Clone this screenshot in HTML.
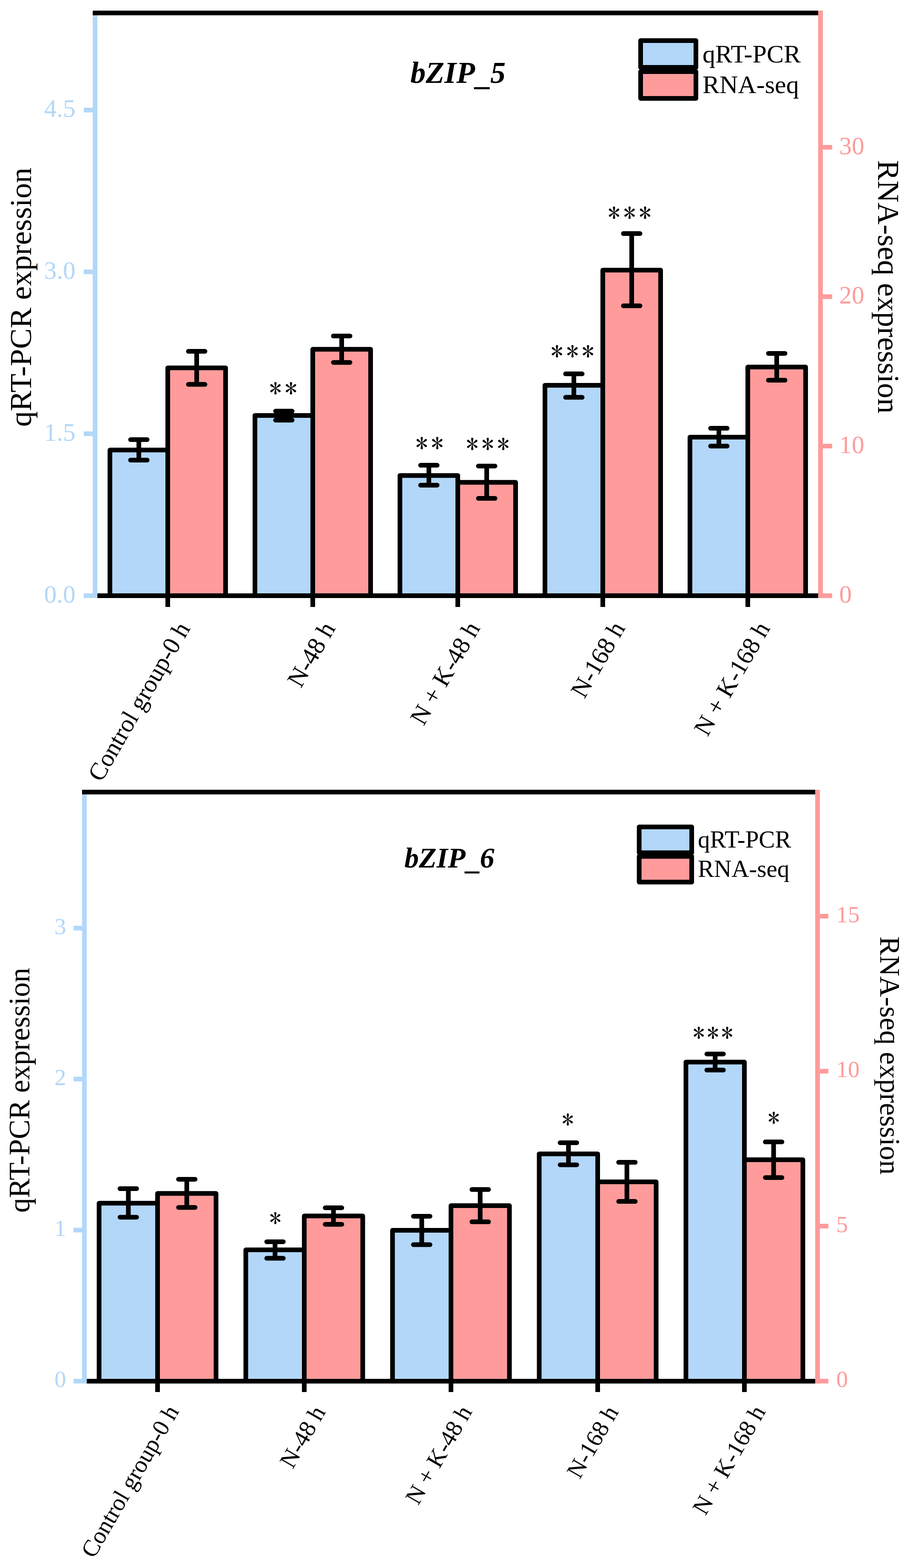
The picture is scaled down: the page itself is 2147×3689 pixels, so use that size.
<!DOCTYPE html><html><head><meta charset="utf-8"><title>bZIP expression</title>
<style>html,body{margin:0;padding:0;background:#fff;}svg{display:block;}</style></head><body>
<svg width="2147" height="3689" viewBox="0 0 2147 3689">
<rect width="2147" height="3689" fill="#fff"/>
<path d="M258.5,1407.0 V1058.8 H394.5 V1407.0" fill="#B3D7F9" stroke="#000" stroke-width="11" stroke-linejoin="round"/>
<path d="M394.5,1407.0 V865.4 H530.5 V1407.0" fill="#FF9B9B" stroke="#000" stroke-width="11" stroke-linejoin="round"/>
<path d="M599.5,1407.0 V977.5 H735.5 V1407.0" fill="#B3D7F9" stroke="#000" stroke-width="11" stroke-linejoin="round"/>
<path d="M735.5,1407.0 V821.7 H871.5 V1407.0" fill="#FF9B9B" stroke="#000" stroke-width="11" stroke-linejoin="round"/>
<path d="M940.5,1407.0 V1118.7 H1076.5 V1407.0" fill="#B3D7F9" stroke="#000" stroke-width="11" stroke-linejoin="round"/>
<path d="M1076.5,1407.0 V1134.7 H1212.5 V1407.0" fill="#FF9B9B" stroke="#000" stroke-width="11" stroke-linejoin="round"/>
<path d="M1281.5,1407.0 V906.4 H1417.5 V1407.0" fill="#B3D7F9" stroke="#000" stroke-width="11" stroke-linejoin="round"/>
<path d="M1417.5,1407.0 V635.5 H1553.5 V1407.0" fill="#FF9B9B" stroke="#000" stroke-width="11" stroke-linejoin="round"/>
<path d="M1622.5,1407.0 V1028.5 H1758.5 V1407.0" fill="#B3D7F9" stroke="#000" stroke-width="11" stroke-linejoin="round"/>
<path d="M1758.5,1407.0 V863.6 H1894.5 V1407.0" fill="#FF9B9B" stroke="#000" stroke-width="11" stroke-linejoin="round"/>
<path d="M326.5,1034.3 V1082.5 M307.0,1034.3 H346.0 M307.0,1082.5 H346.0" stroke="#000" stroke-width="11" stroke-linecap="round" fill="none"/>
<path d="M462.5,826.6 V904.3 M443.0,826.6 H482.0 M443.0,904.3 H482.0" stroke="#000" stroke-width="11" stroke-linecap="round" fill="none"/>
<path d="M667.5,967.3 V988.4 M648.0,967.3 H687.0 M648.0,988.4 H687.0" stroke="#000" stroke-width="11" stroke-linecap="round" fill="none"/>
<path d="M803.5,790.5 V852.7 M784.0,790.5 H823.0 M784.0,852.7 H823.0" stroke="#000" stroke-width="11" stroke-linecap="round" fill="none"/>
<path d="M1008.5,1094.6 V1141.4 M989.0,1094.6 H1028.0 M989.0,1141.4 H1028.0" stroke="#000" stroke-width="11" stroke-linecap="round" fill="none"/>
<path d="M1144.5,1096.4 V1172.5 M1125.0,1096.4 H1164.0 M1125.0,1172.5 H1164.0" stroke="#000" stroke-width="11" stroke-linecap="round" fill="none"/>
<path d="M1349.5,879.6 V934.8 M1330.0,879.6 H1369.0 M1330.0,934.8 H1369.0" stroke="#000" stroke-width="11" stroke-linecap="round" fill="none"/>
<path d="M1485.5,549.5 V719.5 M1466.0,549.5 H1505.0 M1466.0,719.5 H1505.0" stroke="#000" stroke-width="11" stroke-linecap="round" fill="none"/>
<path d="M1690.5,1007.6 V1049.4 M1671.0,1007.6 H1710.0 M1671.0,1049.4 H1710.0" stroke="#000" stroke-width="11" stroke-linecap="round" fill="none"/>
<path d="M1826.5,831.4 V894.5 M1807.0,831.4 H1846.0 M1807.0,894.5 H1846.0" stroke="#000" stroke-width="11" stroke-linecap="round" fill="none"/>
<rect x="218.0" y="25.0" width="1706.0" height="11.0" fill="#000"/>
<rect x="218.0" y="36.0" width="11.0" height="1371.0" fill="#B3D7F9"/>
<rect x="1924.0" y="25.0" width="11.0" height="1382.0" fill="#FF9B9B"/>
<rect x="229.0" y="1396.0" width="1695.0" height="11.0" fill="#000"/>
<rect x="197.0" y="253.5" width="21.0" height="11.0" fill="#B3D7F9"/>
<rect x="197.0" y="634.1" width="21.0" height="11.0" fill="#B3D7F9"/>
<rect x="197.0" y="1015.0" width="21.0" height="11.0" fill="#B3D7F9"/>
<rect x="197.0" y="1396.0" width="21.0" height="11.0" fill="#B3D7F9"/>
<rect x="1935.0" y="341.0" width="22.0" height="11.0" fill="#FF9B9B"/>
<rect x="1935.0" y="692.5" width="22.0" height="11.0" fill="#FF9B9B"/>
<rect x="1935.0" y="1044.0" width="22.0" height="11.0" fill="#FF9B9B"/>
<rect x="1935.0" y="1396.0" width="22.0" height="11.0" fill="#FF9B9B"/>
<rect x="389.0" y="1407.0" width="11.0" height="21.0" fill="#000"/>
<rect x="730.0" y="1407.0" width="11.0" height="21.0" fill="#000"/>
<rect x="1071.0" y="1407.0" width="11.0" height="21.0" fill="#000"/>
<rect x="1412.0" y="1407.0" width="11.0" height="21.0" fill="#000"/>
<rect x="1753.0" y="1407.0" width="11.0" height="21.0" fill="#000"/>
<text x="177.5" y="275.0" font-size="59" fill="#B3D7F9" text-anchor="end" font-family="'Liberation Serif', serif">4.5</text>
<text x="177.5" y="655.6" font-size="59" fill="#B3D7F9" text-anchor="end" font-family="'Liberation Serif', serif">3.0</text>
<text x="177.5" y="1036.5" font-size="59" fill="#B3D7F9" text-anchor="end" font-family="'Liberation Serif', serif">1.5</text>
<text x="177.5" y="1417.5" font-size="59" fill="#B3D7F9" text-anchor="end" font-family="'Liberation Serif', serif">0.0</text>
<text x="1973.5" y="362.5" font-size="59" fill="#FF9B9B" font-family="'Liberation Serif', serif">30</text>
<text x="1973.5" y="714.0" font-size="59" fill="#FF9B9B" font-family="'Liberation Serif', serif">20</text>
<text x="1973.5" y="1065.5" font-size="59" fill="#FF9B9B" font-family="'Liberation Serif', serif">10</text>
<text x="1973.5" y="1417.5" font-size="59" fill="#FF9B9B" font-family="'Liberation Serif', serif">0</text>
<text transform="translate(72.8,1004.0) rotate(-90)" font-size="72.8" font-family="'Liberation Serif', serif">qRT-PCR expression</text>
<text transform="translate(2065.0,376.8) rotate(90)" font-size="71.8" font-family="'Liberation Serif', serif">RNA-seq expression</text>
<text x="965.0" y="195.0" font-size="72" font-weight="bold" font-style="italic" font-family="'Liberation Serif', serif">bZIP<tspan dy="5" dx="3">_</tspan><tspan dy="-5" dx="-3">5</tspan></text>
<rect x="1506.5" y="168.5" width="130.0" height="62.900000000000006" fill="#FF9B9B" stroke="#000" stroke-width="11" stroke-linejoin="round"/>
<rect x="1506.5" y="95.5" width="130.0" height="63.0" fill="#B3D7F9" stroke="#000" stroke-width="11" stroke-linejoin="round"/>
<text x="1652" y="147" font-size="60" font-family="'Liberation Serif', serif">qRT-PCR</text>
<text x="1652" y="219" font-size="60" font-family="'Liberation Serif', serif">RNA-seq</text>
<text transform="translate(448.5,1478.2) rotate(-60)" text-anchor="end" font-size="58.17" font-family="'Liberation Serif', serif">Control group-0 h</text>
<text transform="translate(789.9,1478.0) rotate(-60)" text-anchor="end" font-size="58.76" font-family="'Liberation Serif', serif">N-48 h</text>
<text transform="translate(1130.4,1477.4) rotate(-60)" text-anchor="end" font-size="58.4" font-family="'Liberation Serif', serif">N + K-48 h</text>
<text transform="translate(1471.4,1477.4) rotate(-60)" text-anchor="end" font-size="58.79" font-family="'Liberation Serif', serif">N-168 h</text>
<text transform="translate(1812.1,1477.8) rotate(-60)" text-anchor="end" font-size="58.29" font-family="'Liberation Serif', serif">N + K-168 h</text>
<text x="633.3" y="935.5" font-size="58" letter-spacing="7.5" font-family="IPAGothic, sans-serif">**</text>
<text x="977.3" y="1065.3" font-size="58" letter-spacing="7.5" font-family="IPAGothic, sans-serif">**</text>
<text x="1096.1" y="1067.1" font-size="58" letter-spacing="7.5" font-family="IPAGothic, sans-serif">***</text>
<text x="1295.2" y="849.2" font-size="58" letter-spacing="7.5" font-family="IPAGothic, sans-serif">***</text>
<text x="1429.4" y="523.1" font-size="58" letter-spacing="7.5" font-family="IPAGothic, sans-serif">***</text>
<path d="M233.0,3255.0 V2830.8 H370.5 V3255.0" fill="#B3D7F9" stroke="#000" stroke-width="11" stroke-linejoin="round"/>
<path d="M370.5,3255.0 V2807.8 H508.0 V3255.0" fill="#FF9B9B" stroke="#000" stroke-width="11" stroke-linejoin="round"/>
<path d="M578.0,3255.0 V2940.6 H715.5 V3255.0" fill="#B3D7F9" stroke="#000" stroke-width="11" stroke-linejoin="round"/>
<path d="M715.5,3255.0 V2860.8 H853.0 V3255.0" fill="#FF9B9B" stroke="#000" stroke-width="11" stroke-linejoin="round"/>
<path d="M923.0,3255.0 V2894.4 H1060.5 V3255.0" fill="#B3D7F9" stroke="#000" stroke-width="11" stroke-linejoin="round"/>
<path d="M1060.5,3255.0 V2836.6 H1198.0 V3255.0" fill="#FF9B9B" stroke="#000" stroke-width="11" stroke-linejoin="round"/>
<path d="M1268.0,3255.0 V2714.7 H1405.5 V3255.0" fill="#B3D7F9" stroke="#000" stroke-width="11" stroke-linejoin="round"/>
<path d="M1405.5,3255.0 V2780.6 H1543.0 V3255.0" fill="#FF9B9B" stroke="#000" stroke-width="11" stroke-linejoin="round"/>
<path d="M1613.0,3255.0 V2498.7 H1750.5 V3255.0" fill="#B3D7F9" stroke="#000" stroke-width="11" stroke-linejoin="round"/>
<path d="M1750.5,3255.0 V2728.5 H1888.0 V3255.0" fill="#FF9B9B" stroke="#000" stroke-width="11" stroke-linejoin="round"/>
<path d="M301.8,2796.5 V2863.7 M282.2,2796.5 H321.2 M282.2,2863.7 H321.2" stroke="#000" stroke-width="11" stroke-linecap="round" fill="none"/>
<path d="M439.2,2774.4 V2840.7 M419.8,2774.4 H458.8 M419.8,2840.7 H458.8" stroke="#000" stroke-width="11" stroke-linecap="round" fill="none"/>
<path d="M646.8,2921.4 V2960.3 M627.2,2921.4 H666.2 M627.2,2960.3 H666.2" stroke="#000" stroke-width="11" stroke-linecap="round" fill="none"/>
<path d="M784.2,2841.6 V2880.4 M764.8,2841.6 H803.8 M764.8,2880.4 H803.8" stroke="#000" stroke-width="11" stroke-linecap="round" fill="none"/>
<path d="M991.8,2861.4 V2928.3 M972.2,2861.4 H1011.2 M972.2,2928.3 H1011.2" stroke="#000" stroke-width="11" stroke-linecap="round" fill="none"/>
<path d="M1129.2,2798.5 V2874.5 M1109.8,2798.5 H1148.8 M1109.8,2874.5 H1148.8" stroke="#000" stroke-width="11" stroke-linecap="round" fill="none"/>
<path d="M1336.8,2688.5 V2740.4 M1317.2,2688.5 H1356.2 M1317.2,2740.4 H1356.2" stroke="#000" stroke-width="11" stroke-linecap="round" fill="none"/>
<path d="M1474.2,2734.5 V2826.6 M1454.8,2734.5 H1493.8 M1454.8,2826.6 H1493.8" stroke="#000" stroke-width="11" stroke-linecap="round" fill="none"/>
<path d="M1681.8,2479.7 V2517.5 M1662.2,2479.7 H1701.2 M1662.2,2517.5 H1701.2" stroke="#000" stroke-width="11" stroke-linecap="round" fill="none"/>
<path d="M1819.2,2686.5 V2770.4 M1799.8,2686.5 H1838.8 M1799.8,2770.4 H1838.8" stroke="#000" stroke-width="11" stroke-linecap="round" fill="none"/>
<rect x="193.0" y="1858.0" width="1724.0" height="11.0" fill="#000"/>
<rect x="193.0" y="1869.0" width="11.0" height="1386.0" fill="#B3D7F9"/>
<rect x="1917.0" y="1858.0" width="11.0" height="1397.0" fill="#FF9B9B"/>
<rect x="204.0" y="3244.0" width="1713.0" height="11.0" fill="#000"/>
<rect x="173.0" y="2178.0" width="20.0" height="11.0" fill="#B3D7F9"/>
<rect x="173.0" y="2533.2" width="20.0" height="11.0" fill="#B3D7F9"/>
<rect x="173.0" y="2888.5" width="20.0" height="11.0" fill="#B3D7F9"/>
<rect x="173.0" y="3243.8" width="20.0" height="11.0" fill="#B3D7F9"/>
<rect x="1928.0" y="2150.0" width="20.0" height="11.0" fill="#FF9B9B"/>
<rect x="1928.0" y="2514.6" width="20.0" height="11.0" fill="#FF9B9B"/>
<rect x="1928.0" y="2879.2" width="20.0" height="11.0" fill="#FF9B9B"/>
<rect x="1928.0" y="3243.8" width="20.0" height="11.0" fill="#FF9B9B"/>
<rect x="365.0" y="3255.0" width="11.0" height="20.0" fill="#000"/>
<rect x="710.0" y="3255.0" width="11.0" height="20.0" fill="#000"/>
<rect x="1055.0" y="3255.0" width="11.0" height="20.0" fill="#000"/>
<rect x="1400.0" y="3255.0" width="11.0" height="20.0" fill="#000"/>
<rect x="1745.0" y="3255.0" width="11.0" height="20.0" fill="#000"/>
<text x="155.5" y="2197.5" font-size="55" fill="#B3D7F9" text-anchor="end" font-family="'Liberation Serif', serif">3</text>
<text x="155.5" y="2552.7" font-size="55" fill="#B3D7F9" text-anchor="end" font-family="'Liberation Serif', serif">2</text>
<text x="155.5" y="2908.0" font-size="55" fill="#B3D7F9" text-anchor="end" font-family="'Liberation Serif', serif">1</text>
<text x="155.5" y="3263.3" font-size="55" fill="#B3D7F9" text-anchor="end" font-family="'Liberation Serif', serif">0</text>
<text x="1966.5" y="2169.5" font-size="55" fill="#FF9B9B" font-family="'Liberation Serif', serif">15</text>
<text x="1966.5" y="2534.1" font-size="55" fill="#FF9B9B" font-family="'Liberation Serif', serif">10</text>
<text x="1966.5" y="2898.7" font-size="55" fill="#FF9B9B" font-family="'Liberation Serif', serif">5</text>
<text x="1966.5" y="3263.3" font-size="55" fill="#FF9B9B" font-family="'Liberation Serif', serif">0</text>
<text transform="translate(69.0,2853.0) rotate(-90)" font-size="68.8" font-family="'Liberation Serif', serif">qRT-PCR expression</text>
<text transform="translate(2070.0,2203.0) rotate(90)" font-size="67.5" font-family="'Liberation Serif', serif">RNA-seq expression</text>
<text x="951.0" y="2041.0" font-size="68" font-weight="bold" font-style="italic" font-family="'Liberation Serif', serif">bZIP<tspan dy="5" dx="3">_</tspan><tspan dy="-5" dx="-3">6</tspan></text>
<rect x="1503.1" y="2014.7" width="123.5" height="60.600000000000136" fill="#FF9B9B" stroke="#000" stroke-width="11" stroke-linejoin="round"/>
<rect x="1503.1" y="1945.5" width="123.5" height="60.799999999999955" fill="#B3D7F9" stroke="#000" stroke-width="11" stroke-linejoin="round"/>
<text x="1641" y="1994" font-size="57" font-family="'Liberation Serif', serif">qRT-PCR</text>
<text x="1641" y="2063" font-size="57" font-family="'Liberation Serif', serif">RNA-seq</text>
<text transform="translate(422.1,3320.2) rotate(-60)" text-anchor="end" font-size="55.69" font-family="'Liberation Serif', serif">Control group-0 h</text>
<text transform="translate(766.8,3321.6) rotate(-60)" text-anchor="end" font-size="56.05" font-family="'Liberation Serif', serif">N-48 h</text>
<text transform="translate(1111.4,3321.2) rotate(-60)" text-anchor="end" font-size="55.77" font-family="'Liberation Serif', serif">N + K-48 h</text>
<text transform="translate(1455.8,3321.6) rotate(-60)" text-anchor="end" font-size="55.98" font-family="'Liberation Serif', serif">N-168 h</text>
<text transform="translate(1801.4,3320.8) rotate(-60)" text-anchor="end" font-size="55.94" font-family="'Liberation Serif', serif">N + K-168 h</text>
<text x="633.5" y="2886.8" font-size="56" letter-spacing="5.4" font-family="IPAGothic, sans-serif">*</text>
<text x="1321.3" y="2655.4" font-size="56" letter-spacing="5.4" font-family="IPAGothic, sans-serif">*</text>
<text x="1629.2" y="2451.2" font-size="56" letter-spacing="5.4" font-family="IPAGothic, sans-serif">***</text>
<text x="1805.5" y="2651.3" font-size="56" letter-spacing="5.4" font-family="IPAGothic, sans-serif">*</text>
</svg></body></html>
